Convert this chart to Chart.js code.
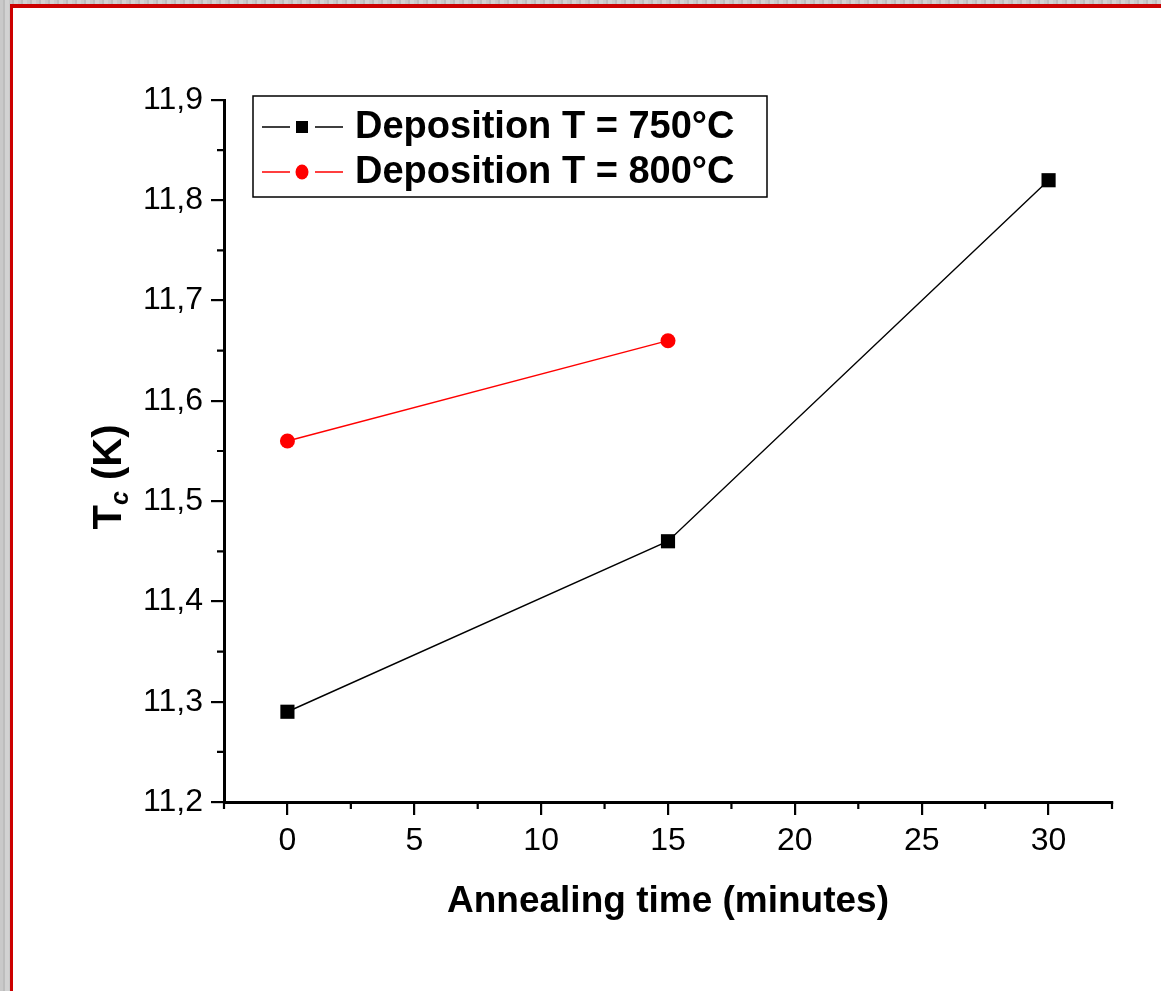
<!DOCTYPE html>
<html>
<head>
<meta charset="utf-8">
<script src="https://cdn.jsdelivr.net/npm/chart.js@4/dist/chart.umd.min.js"></script>
<style>
  html, body { margin: 0; padding: 0; }
  body {
    width: 1161px; height: 991px; overflow: hidden; position: relative;
    background: repeating-linear-gradient(90deg, #c9c9c9 0 3px, #bdbdbd 3px 5px, #d2d2d2 5px 9px);
  }
  .panel {
    position: absolute; left: 10px; top: 4px; right: -10px; bottom: -10px;
    background: #fff;
    border-left: 3px solid #cc0000;
    border-top: 4px solid #cc0000;
  }
  .wrap { position: absolute; left: 0; top: 0; width: 1161px; height: 991px; }
</style>
</head>
<body>
<div class="panel"></div>
<div class="wrap"><canvas id="chart"></canvas></div>
<script>
const FONT = "'Liberation Sans', Arial, sans-serif";

// data
const time750 = [0, 15, 30];
const tc750 = [11.29, 11.46, 11.82];
const time800 = [0, 15];
const tc800 = [11.56, 11.66];
const seriesLabels = ["Deposition T = 750°C", "Deposition T = 800°C"];

const xTicks = [0, 5, 10, 15, 20, 25, 30];
const yTicks = [11.2, 11.3, 11.4, 11.5, 11.6, 11.7, 11.8, 11.9];

function toPoints(xs, ys) {
  return xs.map((x, i) => ({ x: x, y: ys[i] }));
}

function minorValues(major, min, max) {
  const step = major[1] - major[0];
  const out = [];
  for (let v = major[0] - step / 2; v <= max + 1e-9; v += step) {
    if (v >= min - 1e-9) out.push(v);
  }
  return out;
}

const minorTicks = {
  id: "minorTicks",
  afterDraw(chart) {
    const ctx = chart.ctx;
    const xs = chart.scales.x, ys = chart.scales.y;
    ctx.save();
    ctx.strokeStyle = "#000";
    ctx.lineWidth = 2.2;
    ctx.beginPath();
    minorValues(xTicks, xs.min, xs.max).forEach((v) => {
      const px = xs.getPixelForValue(v);
      ctx.moveTo(px, xs.top);
      ctx.lineTo(px, xs.top + 7);
    });
    minorValues(yTicks, ys.min, ys.max).forEach((v) => {
      const py = ys.getPixelForValue(v);
      ctx.moveTo(ys.right, py);
      ctx.lineTo(ys.right - 7, py);
    });
    ctx.stroke();
    ctx.restore();
  },
};

const titles = {
  id: "titles",
  afterDraw(chart) {
    const ctx = chart.ctx;
    const area = chart.chartArea;
    ctx.save();
    ctx.fillStyle = "#000";
    // x title
    ctx.font = "bold 37px " + FONT;
    ctx.textAlign = "center";
    ctx.textBaseline = "alphabetic";
    ctx.fillText("Annealing time (minutes)", (area.left + area.right) / 2, 912);

    // y title: T_c (K)
    const big = "bold 40px " + FONT;
    const sub = "italic bold 25px " + FONT;
    ctx.font = big;
    const wT = ctx.measureText("T").width;
    const wRest = ctx.measureText(" (K)").width;
    ctx.font = sub;
    const wc = ctx.measureText("c").width;
    const total = wT + wc + wRest;
    ctx.translate(121, 477);
    ctx.rotate(-Math.PI / 2);
    ctx.textAlign = "left";
    let x = -total / 2;
    ctx.font = big;
    ctx.fillText("T", x, 0);
    x += wT;
    ctx.font = sub;
    ctx.fillText("c", x, 7);
    x += wc;
    ctx.font = big;
    ctx.fillText(" (K)", x, 0);
    ctx.restore();
  },
};

const boxLegend = {
  id: "boxLegend",
  afterDraw(chart) {
    const ctx = chart.ctx;
    ctx.save();
    ctx.strokeStyle = "#000";
    ctx.lineWidth = 1.5;
    ctx.strokeRect(253, 96, 514, 101);
    chart.data.datasets.forEach((ds, i) => {
      const cy = 127 + i * 45;
      ctx.strokeStyle = ds.borderColor;
      ctx.lineWidth = 1.4;
      ctx.beginPath();
      ctx.moveTo(262, cy); ctx.lineTo(290, cy);
      ctx.moveTo(315, cy); ctx.lineTo(343, cy);
      ctx.stroke();
      ctx.fillStyle = ds.pointBackgroundColor;
      ctx.beginPath();
      if (ds.pointStyle === "rect") ctx.rect(296, cy - 6, 12, 12);
      else ctx.ellipse(302, cy, 6.5, 7.5, 0, 0, Math.PI * 2);
      ctx.fill();
      ctx.fillStyle = "#000";
      ctx.font = "bold 38px " + FONT;
      ctx.textBaseline = "middle";
      ctx.fillText(ds.label, 355, cy + 1);
    });
    ctx.restore();
  },
};

new Chart(document.getElementById("chart"), {
  type: "line",
  data: {
    datasets: [
      {
        label: seriesLabels[0],
        data: toPoints(time750, tc750),
        borderColor: "#000",
        borderWidth: 1.4,
        pointStyle: "rect",
        pointRadius: 10,
        pointBackgroundColor: "#000",
        pointBorderColor: "#000",
        pointBorderWidth: 0,
      },
      {
        label: seriesLabels[1],
        data: toPoints(time800, tc800),
        borderColor: "#ff0000",
        borderWidth: 1.4,
        pointStyle: "circle",
        pointRadius: 7.5,
        pointBackgroundColor: "#ff0000",
        pointBorderColor: "#ff0000",
        pointBorderWidth: 0,
      },
    ],
  },
  options: {
    responsive: true,
    maintainAspectRatio: false,
    animation: false,
    events: [],
    layout: { padding: { top: 100, right: 49, left: 0, bottom: 0 } },
    plugins: { legend: { display: false }, tooltip: { enabled: false } },
    scales: {
      x: {
        type: "linear",
        min: -2.5,
        max: 32.5,
        afterBuildTicks: (s) => { s.ticks = xTicks.map((v) => ({ value: v })); },
        afterFit: (s) => { s.height = 189; },
        border: { display: true, color: "#000", width: 3 },
        grid: { drawOnChartArea: false, color: "#000", lineWidth: 2.2, tickLength: 13 },
        ticks: {
          color: "#000",
          font: { family: FONT, size: 32 },
          padding: 7,
          maxRotation: 0,
          autoSkip: false,
        },
      },
      y: {
        type: "linear",
        min: 11.2,
        max: 11.9,
        afterBuildTicks: (s) => { s.ticks = yTicks.map((v) => ({ value: v })); },
        afterFit: (s) => { s.width = 224; },
        border: { display: true, color: "#000", width: 3 },
        grid: { drawOnChartArea: false, color: "#000", lineWidth: 2.2, tickLength: 13 },
        ticks: {
          color: "#000",
          font: { family: FONT, size: 32 },
          padding: 8,
          autoSkip: false,
          callback: (v) => Number(v).toFixed(1).replace(".", ","),
        },
      },
    },
  },
  plugins: [minorTicks, titles, boxLegend],
});
</script>
</body>
</html>
